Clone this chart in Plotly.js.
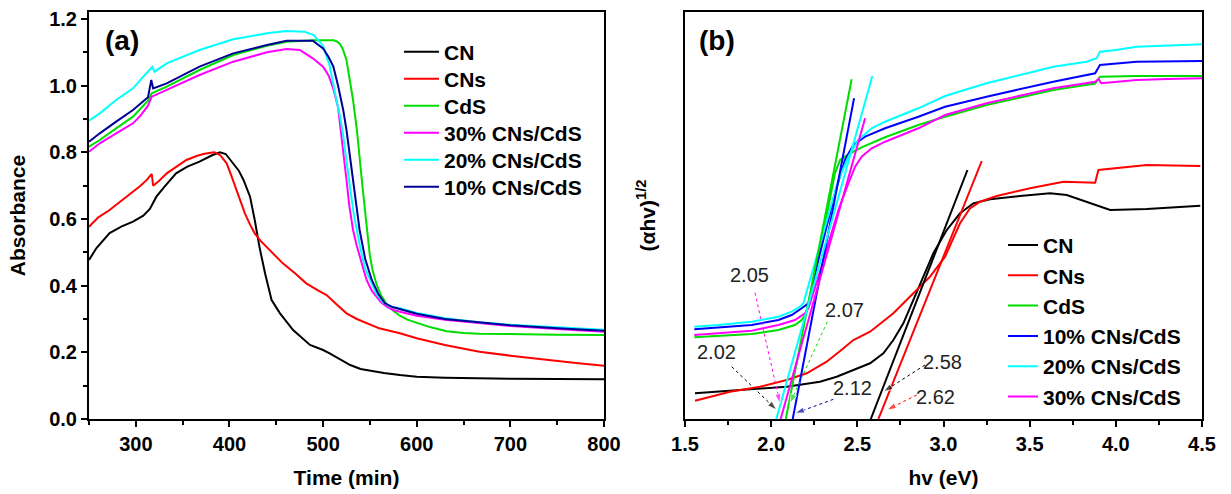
<!DOCTYPE html>
<html>
<head>
<meta charset="utf-8">
<script src="https://cdn.plot.ly/plotly-3.0.1.min.js"></script>
<style>html,body{margin:0;padding:0;background:#fff;}#chart{width:1231px;height:494px;}</style>
</head>
<body>
<div id="chart"></div>
<script>
// ---------- Panel (a): Absorbance vs Time ----------
const timeCN = [250, 258, 272, 285, 297, 308, 315, 318, 322, 330, 343, 355, 368, 382, 390, 396, 404, 410, 415, 422, 427, 432, 438, 445, 454, 468, 486, 500, 507, 518, 529, 540, 550, 565, 582, 600, 630, 667, 700, 750, 800];
const absCN = [0.477, 0.513, 0.558, 0.578, 0.592, 0.610, 0.630, 0.645, 0.667, 0.695, 0.737, 0.757, 0.772, 0.792, 0.800, 0.795, 0.767, 0.745, 0.717, 0.667, 0.597, 0.517, 0.437, 0.357, 0.317, 0.267, 0.222, 0.207, 0.197, 0.180, 0.162, 0.150, 0.145, 0.138, 0.132, 0.127, 0.124, 0.122, 0.121, 0.120, 0.119];

const timeCNs = [250, 260, 272, 279, 290, 297, 305, 312, 317, 318.5, 325, 333, 345, 354, 365, 372, 380, 384, 390, 397, 402, 407.6, 412, 416.5, 422, 427, 433, 439.6, 448, 457, 470, 482, 495, 503.7, 514, 525, 536, 546.5, 560, 582, 600, 630, 667, 700, 739, 770, 800];
const absCNs = [0.577, 0.605, 0.627, 0.642, 0.665, 0.682, 0.700, 0.718, 0.735, 0.700, 0.715, 0.737, 0.760, 0.777, 0.789, 0.795, 0.799, 0.800, 0.792, 0.767, 0.730, 0.687, 0.650, 0.617, 0.583, 0.557, 0.535, 0.517, 0.492, 0.467, 0.437, 0.407, 0.385, 0.372, 0.345, 0.317, 0.300, 0.287, 0.272, 0.257, 0.242, 0.222, 0.202, 0.190, 0.177, 0.168, 0.160];

const timeCdS = [250, 261.5, 279, 297, 313, 317, 333, 368, 404, 440, 461, 490, 511, 515, 518, 521, 525, 528, 532, 536, 539, 542, 546.5, 550, 553, 557, 562, 568, 575, 582, 590, 600, 615, 632, 650, 667, 700, 750, 800];
const absCdS = [0.817, 0.837, 0.872, 0.907, 0.955, 0.977, 0.997, 1.047, 1.092, 1.120, 1.132, 1.136, 1.136, 1.132, 1.125, 1.110, 1.077, 1.030, 0.957, 0.870, 0.775, 0.700, 0.580, 0.490, 0.445, 0.405, 0.370, 0.345, 0.325, 0.310, 0.298, 0.288, 0.275, 0.263, 0.258, 0.256, 0.254, 0.253, 0.252];

const time30 = [250, 261.5, 279, 297, 305, 313, 317, 333, 368, 404, 440, 461, 475, 489, 500, 506, 511, 516, 519, 521.5, 525, 528, 532, 536, 539, 543, 546.5, 552, 557, 562, 568, 575, 582, 600, 630, 667, 700, 750, 800];
const abs30 = [0.802, 0.827, 0.857, 0.887, 0.910, 0.940, 0.967, 0.987, 1.032, 1.072, 1.100, 1.110, 1.107, 1.082, 1.057, 1.030, 0.990, 0.935, 0.867, 0.810, 0.717, 0.640, 0.567, 0.520, 0.487, 0.450, 0.417, 0.385, 0.367, 0.350, 0.337, 0.327, 0.322, 0.310, 0.298, 0.287, 0.279, 0.270, 0.262];

const time20 = [250, 261.5, 279, 297, 308, 316, 317.5, 320, 333, 368, 404, 440, 461, 480, 490, 500, 507, 514, 518, 521.5, 525, 529, 533, 536, 540, 545, 550, 557, 564, 572, 582, 600, 630, 667, 700, 750, 800];
const abs20 = [0.895, 0.917, 0.957, 0.992, 1.027, 1.050, 1.056, 1.042, 1.067, 1.107, 1.139, 1.157, 1.164, 1.162, 1.152, 1.120, 1.060, 0.960, 0.910, 0.850, 0.770, 0.690, 0.610, 0.565, 0.510, 0.450, 0.417, 0.375, 0.350, 0.337, 0.332, 0.318, 0.302, 0.290, 0.283, 0.276, 0.268];

const time10 = [250, 261.5, 279, 297, 313, 316.5, 318.5, 333, 368, 404, 440, 461, 489, 500, 506, 511, 516, 521.5, 525, 529, 533, 536, 539, 545, 552, 559, 566, 575, 582, 600, 630, 667, 700, 750, 800];
const abs10 = [0.832, 0.857, 0.892, 0.927, 0.965, 1.017, 0.992, 1.007, 1.057, 1.097, 1.122, 1.135, 1.135, 1.112, 1.085, 1.057, 1.000, 0.927, 0.867, 0.780, 0.690, 0.620, 0.567, 0.480, 0.417, 0.375, 0.347, 0.335, 0.330, 0.316, 0.300, 0.289, 0.281, 0.272, 0.265];

// ---------- Panel (b): (alpha h nu)^1/2 vs h nu (arbitrary units) ----------
const hvCN = [1.558, 1.80, 2.09, 2.283, 2.38, 2.477, 2.574, 2.651, 2.709, 2.767, 2.825, 2.883, 2.941, 3.019, 3.096, 3.173, 3.27, 3.444, 3.618, 3.715, 3.831, 3.909, 3.967, 4.18, 4.49];
const yCN = [0.257, 0.29, 0.323, 0.373, 0.423, 0.49, 0.557, 0.657, 0.79, 0.957, 1.19, 1.423, 1.657, 1.89, 2.057, 2.157, 2.197, 2.23, 2.257, 2.24, 2.173, 2.123, 2.09, 2.1, 2.133];

const hvCNs = [1.558, 1.761, 1.935, 2.09, 2.206, 2.322, 2.40, 2.477, 2.574, 2.709, 2.825, 2.922, 3.009, 3.096, 3.154, 3.212, 3.309, 3.502, 3.696, 3.88, 3.899, 4.18, 4.49];
const yCNs = [0.183, 0.273, 0.323, 0.39, 0.457, 0.573, 0.68, 0.79, 0.873, 1.057, 1.257, 1.423, 1.623, 1.957, 2.107, 2.173, 2.23, 2.307, 2.373, 2.363, 2.49, 2.54, 2.53];

const hvCdS = [1.554, 1.887, 2.042, 2.138, 2.177, 2.196, 2.225, 2.254, 2.293, 2.332, 2.370, 2.400, 2.448, 2.525, 2.661, 2.854, 3.009, 3.25, 3.45, 3.637, 3.88, 3.908, 4.12, 4.3, 4.5];
const yCdS = [0.817, 0.85, 0.89, 0.94, 0.99, 1.04, 1.19, 1.457, 1.79, 2.123, 2.457, 2.59, 2.647, 2.717, 2.817, 2.94, 3.023, 3.14, 3.22, 3.29, 3.355, 3.423, 3.43, 3.43, 3.43];

const hv10 = [1.554, 1.887, 2.042, 2.119, 2.177, 2.216, 2.264, 2.312, 2.370, 2.428, 2.477, 2.545, 2.661, 2.854, 3.009, 3.25, 3.45, 3.637, 3.88, 3.908, 4.12, 4.3, 4.5];
const y10 = [0.897, 0.94, 0.99, 1.04, 1.107, 1.157, 1.523, 1.857, 2.257, 2.59, 2.74, 2.823, 2.907, 3.023, 3.123, 3.223, 3.3, 3.373, 3.457, 3.54, 3.573, 3.577, 3.58];

const hv20 = [1.554, 1.693, 1.887, 2.042, 2.119, 2.167, 2.187, 2.225, 2.274, 2.332, 2.390, 2.448, 2.506, 2.583, 2.661, 2.854, 3.009, 3.25, 3.45, 3.637, 3.83, 3.889, 3.908, 4.0, 4.12, 4.3, 4.5];
const y20 = [0.923, 0.94, 0.973, 1.023, 1.073, 1.123, 1.157, 1.39, 1.69, 2.057, 2.39, 2.623, 2.79, 2.907, 2.973, 3.107, 3.23, 3.357, 3.44, 3.523, 3.573, 3.607, 3.673, 3.69, 3.723, 3.735, 3.747];

const hv30 = [1.554, 1.887, 2.042, 2.138, 2.196, 2.216, 2.274, 2.332, 2.390, 2.448, 2.487, 2.525, 2.583, 2.661, 2.854, 3.009, 3.25, 3.45, 3.637, 3.88, 3.90, 3.915, 4.12, 4.3, 4.5];
const y30 = [0.84, 0.883, 0.94, 0.99, 1.057, 1.107, 1.423, 1.757, 2.09, 2.357, 2.523, 2.623, 2.707, 2.773, 2.907, 3.04, 3.157, 3.235, 3.307, 3.373, 3.40, 3.357, 3.39, 3.40, 3.407];

// Tangent (Tauc) lines: [start, end]
const tanCN_hv = [2.578, 3.139],  tanCN_y = [0, 2.49];
const tanCNs_hv = [2.622, 3.222], tanCNs_y = [0, 2.58];
const tanCdS_hv = [2.085, 2.467], tanCdS_y = [0, 3.397];
const tan10_hv = [2.125, 2.481],  tan10_y = [0, 3.207];
const tan20_hv = [2.030, 2.587],  tan20_y = [0, 3.43];
const tan30_hv = [2.055, 2.545],  tan30_y = [0, 3.007];

// Band-gap labels and their dashed arrows
const gapLabels = ['2.05', '2.07', '2.02', '2.12', '2.58', '2.62'];
const gapLabelX = [1.872, 2.424, 1.684, 2.472, 2.996, 2.954];
const gapLabelY = [1.44, 1.09, 0.673, 0.307, 0.573, 0.223];
const arrowFromX = [1.906, 2.326, 1.771, 2.361, 2.893, 2.845];
const arrowFromY = [1.263, 0.973, 0.523, 0.197, 0.54, 0.24];
const arrowToX = [2.051, 2.109, 2.032, 2.138, 2.651, 2.671];
const arrowToY = [0.157, 0.157, 0.09, 0.057, 0.273, 0.09];
const arrowColors = ['#ff00ff', '#00dd00', '#000000', '#000099', '#000000', '#ff0000'];

const seriesNamesA = ['CN', 'CNs', 'CdS', '30% CNs/CdS', '20% CNs/CdS', '10% CNs/CdS'];
const seriesNamesB = ['CN', 'CNs', 'CdS', '10% CNs/CdS', '20% CNs/CdS', '30% CNs/CdS'];

// ---------- Styling ----------
const FONT = 'Arial, "Liberation Sans", sans-serif';
const C = {CN:'#000000', CNs:'#ff0000', CdS:'#00dd00', c30:'#ff00ff', c20:'#00ffff', c10a:'#000099', c10b:'#0000ff'};
const LW = 2;
const LEGEND_ROW = 27;

const traces = [];
function addLine(x, y, name, color, xa, ya, leg, show) {
  traces.push({x:x, y:y, name:name, type:'scatter', mode:'lines', xaxis:xa, yaxis:ya,
    line:{color:color, width:LW}, legend:leg, showlegend:show, hoverinfo:'skip'});
}
// Panel (a)
addLine(timeCN, absCN, seriesNamesA[0], C.CN, 'x', 'y', 'legend', true);
addLine(timeCNs, absCNs, seriesNamesA[1], C.CNs, 'x', 'y', 'legend', true);
addLine(timeCdS, absCdS, seriesNamesA[2], C.CdS, 'x', 'y', 'legend', true);
addLine(time30, abs30, seriesNamesA[3], C.c30, 'x', 'y', 'legend', true);
addLine(time20, abs20, seriesNamesA[4], C.c20, 'x', 'y', 'legend', true);
addLine(time10, abs10, seriesNamesA[5], C.c10a, 'x', 'y', 'legend', true);
// Panel (b)
addLine(hvCN, yCN, seriesNamesB[0], C.CN, 'x2', 'y2', 'legend2', true);
addLine(hvCNs, yCNs, seriesNamesB[1], C.CNs, 'x2', 'y2', 'legend2', true);
addLine(hvCdS, yCdS, seriesNamesB[2], C.CdS, 'x2', 'y2', 'legend2', true);
addLine(hv10, y10, seriesNamesB[3], C.c10b, 'x2', 'y2', 'legend2', true);
addLine(hv20, y20, seriesNamesB[4], C.c20, 'x2', 'y2', 'legend2', true);
addLine(hv30, y30, seriesNamesB[5], C.c30, 'x2', 'y2', 'legend2', true);
// tangents
addLine(tanCN_hv, tanCN_y, 'CN fit', C.CN, 'x2', 'y2', 'legend2', false);
addLine(tanCNs_hv, tanCNs_y, 'CNs fit', C.CNs, 'x2', 'y2', 'legend2', false);
addLine(tanCdS_hv, tanCdS_y, 'CdS fit', C.CdS, 'x2', 'y2', 'legend2', false);
addLine(tan10_hv, tan10_y, '10% fit', C.c10b, 'x2', 'y2', 'legend2', false);
addLine(tan20_hv, tan20_y, '20% fit', C.c20, 'x2', 'y2', 'legend2', false);
addLine(tan30_hv, tan30_y, '30% fit', C.c30, 'x2', 'y2', 'legend2', false);
// dashed arrows
for (let i = 0; i < gapLabels.length; i++) {
  traces.push({x:[arrowFromX[i], arrowToX[i]], y:[arrowFromY[i], arrowToY[i]], type:'scatter', mode:'lines+markers',
    xaxis:'x2', yaxis:'y2', showlegend:false, hoverinfo:'skip',
    line:{color:arrowColors[i], width:1, dash:'dot'},
    marker:{symbol:['circle','arrow'], size:[0,10], angleref:'previous', color:arrowColors[i]}});
}

const tickFont = {family:FONT, size:20, weight:'bold', color:'#000'};
const titleFont = {family:FONT, size:21, weight:'bold', color:'#000'};
const axisBase = {showline:true, linewidth:2, linecolor:'#000', mirror:true, showgrid:false, zeroline:false,
  ticks:'outside', ticklen:6, tickwidth:2, tickcolor:'#000', tickfont:tickFont};

const annotations = [
  {text:'(a)', xref:'x', yref:'y', x:264.7, y:1.137, xanchor:'left', yanchor:'middle', showarrow:false,
   font:{family:FONT, size:28, weight:'bold', color:'#000'}},
  {text:'(b)', xref:'x2', yref:'y2', x:1.57, y:3.79, xanchor:'left', yanchor:'middle', showarrow:false,
   font:{family:FONT, size:28, weight:'bold', color:'#000'}}
];
for (let i = 0; i < gapLabels.length; i++) {
  annotations.push({text:gapLabels[i], xref:'x2', yref:'y2', x:gapLabelX[i], y:gapLabelY[i], showarrow:false,
    xanchor:'center', yanchor:'middle', font:{family:FONT, size:20, color:'#222'}});
}

const legendBase = {xanchor:'left', yanchor:'top', bgcolor:'rgba(0,0,0,0)', borderwidth:0,
  font:{family:FONT, size:21, weight:'bold', color:'#000'}, traceorder:'normal', itemwidth:30};

const layout = {
  width:1231, height:494,
  margin:{l:89, r:29, t:12, b:75},
  paper_bgcolor:'#fff', plot_bgcolor:'#fff',
  xaxis:Object.assign({}, axisBase, {domain:[0, 0.4627], anchor:'y', range:[250, 800], tick0:300, dtick:100,
    minor:{tick0:250, dtick:50, ticks:'outside', ticklen:4, tickwidth:2, tickcolor:'#000', showgrid:false},
    title:{text:'Time (min)', font:titleFont, standoff:16}}),
  yaxis:Object.assign({}, axisBase, {domain:[0, 1], anchor:'x', range:[0, 1.221], tick0:0, dtick:0.2, tickformat:'.1f',
    minor:{tick0:0, dtick:0.1, ticks:'outside', ticklen:4, tickwidth:2, tickcolor:'#000', showgrid:false},
    title:{text:'Absorbance', font:titleFont, standoff:18}}),
  xaxis2:Object.assign({}, axisBase, {domain:[0.5355, 1], anchor:'y2', range:[1.5, 4.5], tick0:1.5, dtick:0.5, tickformat:'.1f',
    minor:{tick0:1.5, dtick:0.25, ticks:'outside', ticklen:4, tickwidth:2, tickcolor:'#000', showgrid:false},
    title:{text:'hv (eV)', font:titleFont, standoff:16}}),
  yaxis2:Object.assign({}, axisBase, {domain:[0, 1], anchor:'x2', range:[0, 4.07], ticks:'', showticklabels:false,
    title:{text:'(αhv)<sup>1/2</sup>', font:titleFont, standoff:22}}),
  legend:Object.assign({}, legendBase, {x:0.283, y:0.952}),
  legend2:Object.assign({}, legendBase, {x:0.8212, y:0.477}),
  annotations:annotations
};

Plotly.newPlot('chart', traces, layout, {displayModeBar:false, staticPlot:true}).then(function () {
  // Tighten legend rows and lengthen the legend line samples to match the original figure
  document.querySelectorAll('#chart g.legend').forEach(function (leg) {
    const items = leg.querySelectorAll('g.traces');
    if (!items.length) return;
    const m = /translate\(\s*([-\d.]+)[ ,]+([-\d.]+)\s*\)/.exec(items[0].getAttribute('transform') || '');
    const x0 = m ? parseFloat(m[1]) : 0, y0 = m ? parseFloat(m[2]) : 0;
    items.forEach(function (g, i) {
      g.setAttribute('transform', 'translate(' + x0 + ',' + (y0 + i * LEGEND_ROW) + ')');
    });
    leg.querySelectorAll('path.js-line').forEach(function (p) { p.setAttribute('d', 'M-9,0h44'); });
  });
});
</script>
</body>
</html>
